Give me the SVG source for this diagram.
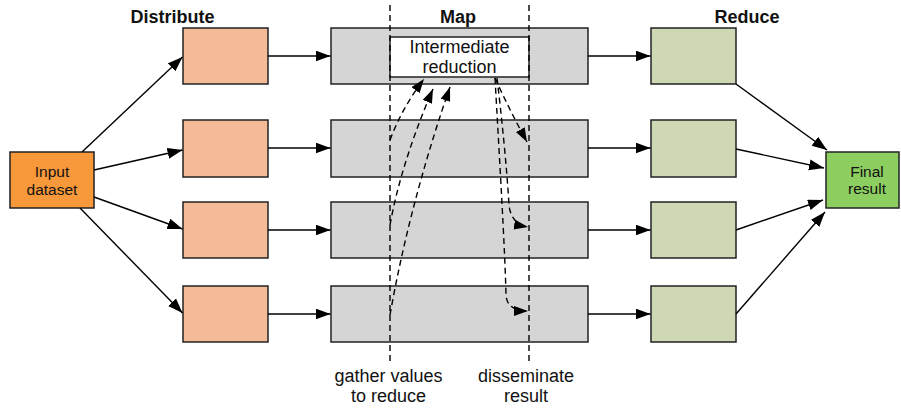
<svg xmlns="http://www.w3.org/2000/svg" width="901" height="408" viewBox="0 0 901 408">
<style>
text{font-family:"Liberation Sans",Arial,Helvetica,sans-serif;fill:#111;text-anchor:middle}
.title{font-weight:bold;font-size:18px}
.lbl{font-size:15.5px}
.big{font-size:18px}
.box{stroke:#222;stroke-width:1.5}
.dist{fill:#F4BB96}
.map{fill:#D5D5D5}
.red{fill:#CFD8B5}
.conn{stroke:#000;stroke-width:1.4;fill:none;marker-end:url(#ah)}
.dash{stroke:#000;stroke-width:1.4;fill:none;stroke-dasharray:6,4}
.darr{stroke:#000;stroke-width:1.4;fill:none;stroke-dasharray:6,4;marker-end:url(#dh)}
</style>
<defs>
<marker id="ah" markerUnits="userSpaceOnUse" markerWidth="16" markerHeight="12" refX="15" refY="5.5" orient="auto"><path d="M0,0 L15,5.5 L0,11 z" fill="#000"/></marker>
<marker id="dh" markerUnits="userSpaceOnUse" markerWidth="15" markerHeight="11" refX="14" refY="5" orient="auto"><path d="M0,0 L14,5 L0,10 z" fill="#000"/></marker>
</defs>
<rect width="901" height="408" fill="#fff"/>
<g id="titles">
<text class="title" x="172.5" y="23">Distribute</text>
<text class="title" x="458" y="23">Map</text>
<text class="title" x="747" y="23">Reduce</text>
</g>
<g id="input"><rect class="box" x="10" y="152" width="84" height="56" fill="#F7983A"/><text class="lbl" x="52" y="176.5">Input</text><text class="lbl" x="52" y="195">dataset</text></g>
<g id="dist1"><rect class="box dist" x="183" y="28" width="85" height="56"/></g>
<g id="dist2"><rect class="box dist" x="183" y="120" width="85" height="57"/></g>
<g id="dist3"><rect class="box dist" x="183" y="202" width="85" height="56"/></g>
<g id="dist4"><rect class="box dist" x="183" y="286" width="85" height="56"/></g>
<g id="map1"><rect class="box map" x="331" y="28" width="257" height="56"/></g>
<g id="map2"><rect class="box map" x="331" y="120" width="257" height="57"/></g>
<g id="map3"><rect class="box map" x="331" y="202" width="257" height="56"/></g>
<g id="map4"><rect class="box map" x="331" y="286" width="257" height="56"/></g>
<g id="intermediate"><rect class="box" x="390" y="37" width="139" height="40" fill="#fff"/><text class="big" x="459.5" y="53">Intermediate</text><text class="big" x="459.5" y="72.5">reduction</text></g>
<g id="red1"><rect class="box red" x="651" y="28" width="85" height="56"/></g>
<g id="red2"><rect class="box red" x="651" y="120" width="85" height="57"/></g>
<g id="red3"><rect class="box red" x="651" y="202" width="85" height="56"/></g>
<g id="red4"><rect class="box red" x="651" y="286" width="85" height="56"/></g>
<g id="final"><rect class="box" x="826" y="152" width="73" height="56" fill="#8DCE61"/><text class="lbl" x="867" y="176.5">Final</text><text class="lbl" x="867" y="194">result</text></g>
<g id="connectors">
<line class="conn" x1="82" y1="152" x2="182.5" y2="57"/>
<line class="conn" x1="94" y1="170" x2="182.5" y2="150"/>
<line class="conn" x1="94" y1="197" x2="182.5" y2="229"/>
<line class="conn" x1="80" y1="208" x2="182.5" y2="313"/>
<line class="conn" x1="268" y1="56" x2="330.5" y2="56"/>
<line class="conn" x1="268" y1="148" x2="330.5" y2="148"/>
<line class="conn" x1="268" y1="230" x2="330.5" y2="230"/>
<line class="conn" x1="268" y1="314" x2="330.5" y2="314"/>
<line class="conn" x1="588" y1="56" x2="650.5" y2="56"/>
<line class="conn" x1="588" y1="148" x2="650.5" y2="148"/>
<line class="conn" x1="588" y1="230" x2="650.5" y2="230"/>
<line class="conn" x1="588" y1="314" x2="650.5" y2="314"/>
<line class="conn" x1="736" y1="84" x2="827" y2="150"/>
<line class="conn" x1="736" y1="149" x2="824" y2="168"/>
<line class="conn" x1="736" y1="230" x2="823" y2="200"/>
<line class="conn" x1="736" y1="314" x2="825" y2="212"/>
<line class="dash" x1="390" y1="5" x2="390" y2="362"/>
<line class="dash" x1="529" y1="5" x2="529" y2="362"/>
<path class="darr" d="M390,140 Q402,108 424,79"/>
<path class="darr" d="M390,225 C398,180 415,130 433,89"/>
<path class="darr" d="M390,315 C405,230 428,150 450,87"/>
<path class="darr" d="M495,78 C505,100 515,120 527,142"/>
<path class="darr" d="M497,78 C502,120 507,170 509,205 Q511,224 528,227"/>
<path class="darr" d="M495,78 C499,150 505,250 506,295 Q507,311 528,311"/>
</g>
<g id="notes">
<text class="big" x="388.5" y="381.5">gather values</text>
<text class="big" x="388.5" y="401.5">to reduce</text>
<text class="big" x="526" y="381.5">disseminate</text>
<text class="big" x="526" y="401.5">result</text>
</g>
</svg>
